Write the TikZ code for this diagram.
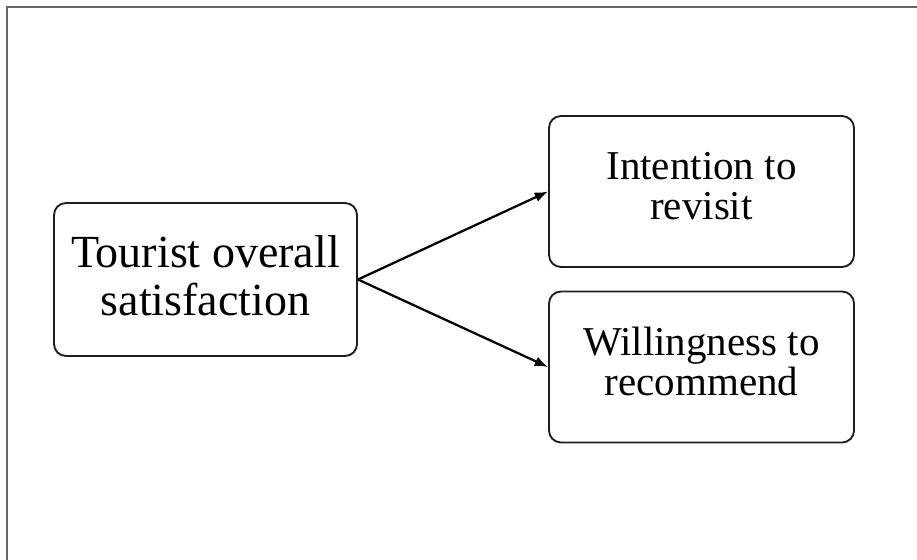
\documentclass[tikz,border=0pt]{standalone}
\usepackage{fontspec}
\setmainfont{Liberation Serif}
\usetikzlibrary{arrows.meta}
\tikzset{every picture/.style={line width=0.75pt}}

\begin{document}
\begin{tikzpicture}[x=0.75pt,y=0.75pt,yscale=-1,xscale=1,
  box/.style={draw={rgb,255:red,30;green,30;blue,30}, line width=1.4pt, rounded corners=9pt, align=center, inner sep=0pt},
  link/.style={line width=1.7pt, -{Latex[length=10pt,width=7.5pt]}}]
\useasboundingbox (0,0) rectangle (917,560);

%Straight Lines [frame]
\draw [color={rgb,255:red,102;green,102;blue,102}, line width=1.5] (917,7) -- (6.5,7) -- (6.5,560) ;

% Text Node
\node [box, minimum width=227.25pt, minimum height=114.75pt, text depth=6pt, font=\fontsize{34.5}{36.5}\selectfont] (satisf) at (205.5,279.5) {Tourist overall\\satisfaction};
% Text Node
\node [box, minimum width=228.75pt, minimum height=113.25pt, text depth=9pt, font=\fontsize{30.75}{30}\selectfont] (revisit) at (701.5,191.5) {Intention to\\revisit};
% Text Node
\node [box, minimum width=228.75pt, minimum height=113.25pt, text depth=9pt, font=\fontsize{30.75}{30}\selectfont] (recomm) at (701.5,367) {Willingness to\\recommend};

%Straight Lines [arrows]
\draw [link] (satisf.east) -- (revisit.west) ;
\draw [link] (satisf.east) -- (recomm.west) ;

\end{tikzpicture}
\end{document}
